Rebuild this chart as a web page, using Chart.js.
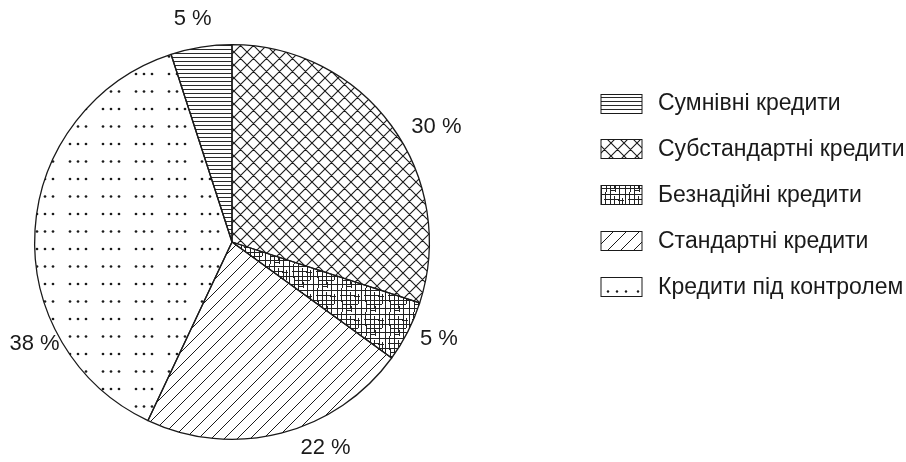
<!DOCTYPE html>
<html lang="uk">
<head>
<meta charset="utf-8">
<script src="https://cdn.jsdelivr.net/npm/chart.js@4.4.1/dist/chart.umd.min.js"></script>
<style>
  html, body { margin: 0; padding: 0; background: #fff; }
  canvas { display: block; }
</style>
</head>
<body>
<canvas id="c" width="906" height="462"></canvas>
<script>
// Structure of the loan portfolio, %
const categories = [
  'Сумнівні кредити',
  'Субстандартні кредити',
  'Безнадійні кредити',
  'Стандартні кредити',
  'Кредити під контролем'
];
const shares = [5, 30, 5, 22, 38];
const unit = ' %';

const INK = '#1a1a1a';
const FONT = '"Liberation Sans", Arial, Helvetica, sans-serif';

// ---- hatch fills -------------------------------------------------------
function tile(w, h, draw) {
  const c = document.createElement('canvas');
  c.width = w; c.height = h;
  const g = c.getContext('2d');
  g.strokeStyle = INK; g.fillStyle = INK; g.lineWidth = 1;
  draw(g, w, h);
  return document.createElement('canvas').getContext('2d').createPattern(c, 'repeat');
}

const hatchHorizontal = tile(8, 4, (g, w) => {
  g.fillStyle = '#2a2a2a';
  g.fillRect(0, 1, w, 1);
});

const hatchCross = tile(13, 13, (g, w, h) => {
  g.lineWidth = 1.1;
  g.beginPath();
  for (const o of [-w, 0, w]) {
    g.moveTo(o, 0); g.lineTo(o + w, h);
    g.moveTo(o + w, 0); g.lineTo(o, h);
  }
  g.stroke();
});

const hatchDiagonal = tile(13, 13, (g, w, h) => {
  g.lineWidth = 1;
  g.beginPath();
  for (const o of [-w, 0, w]) {
    g.moveTo(o, h); g.lineTo(o + w, 0);
  }
  g.stroke();
});

const hatchDots = tile(33, 35, (g) => {
  for (const y of [4, 21.5]) {
    for (const x of [4, 12, 20]) {
      g.beginPath(); g.arc(x, y, 1.35, 0, Math.PI * 2); g.fill();
    }
  }
});

// irregular grid of short horizontal and vertical strokes
const hatchGrid = tile(24, 24, (g) => {
  g.fillStyle = '#222';
  const v = [[1, 0, 24], [5, 0, 14], [6, 12, 24], [10, 0, 24], [14, 4, 20], [15, 18, 24],
             [19, 0, 24], [22, 6, 16]];
  const hz = [[2, 0, 24], [7, 4, 20], [8, 18, 24], [12, 0, 24], [16, 6, 22], [20, 0, 24], [22, 10, 16]];
  for (const [x, a, b] of v) g.fillRect(x, a, 1, b - a);
  for (const [y, a, b] of hz) g.fillRect(a, y, b - a, 1);
});

const fills = [hatchHorizontal, hatchCross, hatchGrid, hatchDiagonal, hatchDots];

// ---- percentage labels around the pie ---------------------------------
const sliceLabels = {
  id: 'sliceLabels',
  afterDatasetsDraw(chart, args, opts) {
    const { ctx } = chart;
    const meta = chart.getDatasetMeta(0);
    ctx.save();
    ctx.font = opts.font;
    ctx.fillStyle = INK;
    ctx.textAlign = 'center';
    ctx.textBaseline = 'middle';
    meta.data.forEach((arc, i) => {
      const p = arc.getProps(['x', 'y', 'startAngle', 'endAngle', 'outerRadius'], true);
      const a = (p.startAngle + p.endAngle) / 2 + opts.angleShift[i] * Math.PI / 180;
      const r = p.outerRadius + opts.gap[i];
      ctx.fillText(chart.data.datasets[0].data[i] + unit, p.x + Math.cos(a) * r, p.y + Math.sin(a) * r);
    });
    ctx.restore();
  }
};

// ---- legend with hatched swatches --------------------------------------
const hatchLegend = {
  id: 'hatchLegend',
  afterDraw(chart, args, opts) {
    const { ctx } = chart;
    const ds = chart.data.datasets[0];
    ctx.save();
    ctx.font = opts.font;
    ctx.textBaseline = 'middle';
    ctx.textAlign = 'left';
    chart.data.labels.forEach((label, i) => {
      const cy = opts.top + i * opts.step;
      const bx = opts.left, by = Math.round(cy - opts.boxH / 2) + 0.5;
      ctx.fillStyle = '#fff';
      ctx.fillRect(bx, by, opts.boxW, opts.boxH);
      if (i === 4) {
        // small dotted swatch
        ctx.fillStyle = INK;
        for (let k = 0; k < 4; k++) {
          ctx.beginPath();
          ctx.arc(bx + 7 + k * 9 + (k === 3 ? 3 : 0), by + opts.boxH - 5, 1.2, 0, Math.PI * 2);
          ctx.fill();
        }
      } else {
        ctx.fillStyle = ds.backgroundColor[i];
        ctx.fillRect(bx, by, opts.boxW, opts.boxH);
      }
      ctx.strokeStyle = INK;
      ctx.lineWidth = 1;
      ctx.strokeRect(bx, by, opts.boxW, opts.boxH);
      ctx.fillStyle = INK;
      ctx.fillText(label, opts.textX, cy + 1);
    });
    ctx.restore();
  }
};

new Chart(document.getElementById('c'), {
  type: 'pie',
  data: {
    labels: categories,
    datasets: [{
      data: shares,
      backgroundColor: fills,
      borderColor: INK,
      borderWidth: 1.3,
      borderAlign: 'center'
    }]
  },
  options: {
    responsive: false,
    animation: false,
    devicePixelRatio: 1,
    rotation: -18,
    layout: { padding: { top: 44, bottom: 22, left: 34, right: 476 } },
    plugins: {
      legend: { display: false },
      tooltip: { enabled: false },
      sliceLabels: {
        font: '22px ' + FONT,
        angleShift: [-1, 6.7, -2, -10, -31],
        gap: [29, 37, 31, 29, 25]
      },
      hatchLegend: {
        font: '23px ' + FONT,
        left: 601, boxW: 41, boxH: 19,
        textX: 658, top: 103, step: 45.8
      }
    }
  },
  plugins: [sliceLabels, hatchLegend]
});
</script>
</body>
</html>
